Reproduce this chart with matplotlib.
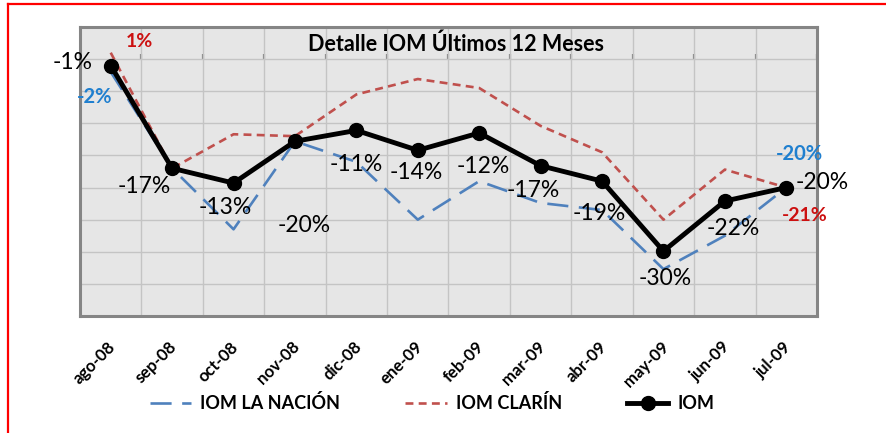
import matplotlib
matplotlib.use("Agg")
import matplotlib.pyplot as plt
from matplotlib.lines import Line2D

plt.rcParams['font.family'] = ['Lato', 'DejaVu Sans']

# ---------------- data ----------------
months = ["ago-08", "sep-08", "oct-08", "nov-08", "dic-08", "ene-09",
          "feb-09", "mar-09", "abr-09", "may-09", "jun-09", "jul-09"]
iom = [-1, -17, -19.3, -12.8, -11.1, -14.2, -11.5, -16.6, -19, -29.9, -22.1, -20]
iom_nacion = [-2, -17, -26.5, -12.8, -16, -25, -19, -22.4, -23.5, -32.7, -27.5, -20]
iom_clarin = [1, -17, -11.7, -12, -5.5, -3.1, -4.5, -10.4, -14.5, -25, -17.2, -20]
iom_labels = ["-1%", "-17%", "-13%", "-20%", "-11%", "-14%", "-12%", "-17%",
              "-19%", "-30%", "-22%", "-20%"]
nacion_labels = {0: "-2%", 11: "-20%"}
clarin_labels = {0: "1%", 11: "-21%"}
title = "Detalle IOM Últimos 12 Meses"
legend_names = ["IOM LA NACIÓN", "IOM CLARÍN", "IOM"]

# ---------------- style ----------------
W, H = 886, 433
fig = plt.figure(figsize=(W / 100, H / 100), dpi=100)
fig.patch.set_facecolor("white")
L, R, T, B = 80, 817, 27, 316
ax = fig.add_axes([L / W, 1 - B / H, (R - L) / W, (B - T) / H])
ax.set_facecolor("#E6E6E6")

x = list(range(len(months)))
blue = "#4F81BD"
red = "#C0504D"

ax.plot(x, iom_nacion, color=blue, lw=1.9, dashes=(8, 4), zorder=3)
ax.plot(x, iom_clarin, color=red, lw=1.9, dashes=(3, 2), zorder=4)
ax.plot(x, iom, color="black", lw=3.5, marker="o", ms=10, zorder=5)

ax.set_xlim(-0.5, len(months) - 0.5)
ax.set_ylim(-40, 5)
ax.set_yticks(range(-40, 6, 5))
ax.set_xticks([i - 0.5 for i in range(len(months) + 1)])
ax.tick_params(axis="both", length=0, labelbottom=False, labelleft=False)
ax.grid(True, color="#C4C4C4", lw=1.0, zorder=0)
ax.set_axisbelow(True)
for s in ax.spines.values():
    s.set_color("#858585")
    s.set_linewidth(2.2)

# zero line with downward tick marks
sec = ax.secondary_xaxis((0 - (-40)) / 45)
sec.set_xticks([i - 0.5 for i in range(len(months) + 1)])
sec.tick_params(axis="x", direction="out", length=3.5, width=1.6, color="#858585",
                labelbottom=False, labeltop=False)
sec.spines["bottom"].set_color("#858585")
sec.spines["bottom"].set_linewidth(1.8)
sec.spines["top"].set_visible(False)

# category labels
for i, m in enumerate(months):
    ax.text(i + 0.04, -0.098, m, transform=ax.get_xaxis_transform(), rotation=45,
            rotation_mode="anchor", ha="right", va="center",
            fontsize=12, fontweight="bold")

# title
ax.text(0.510, 0.941, title, transform=ax.transAxes, ha="center", va="center",
        fontsize=15.5, fontweight="bold", zorder=6)

# data labels (offsets in px: dx right, dy down)
k = 0.72
iom_off = [(-38, -3), (-28, 18), (-8, 24), (9, 84), (0, 34), (-2, 22),
           (4, 34), (-7, 25), (-3, 32), (2, 27), (8, 27), (36, -5)]
for i, (lab, (dx, dy)) in enumerate(zip(iom_labels, iom_off)):
    ax.annotate(lab, (i, iom[i]), xytext=(dx * k, -dy * k), textcoords="offset points",
                ha="center", va="center", fontsize=16.5, color="black", zorder=7)
nac_off = {0: (-16, 25), 11: (13, -34)}
for i, lab in nacion_labels.items():
    dx, dy = nac_off[i]
    ax.annotate(lab, (i, iom_nacion[i]), xytext=(dx * k, -dy * k), textcoords="offset points",
                ha="center", va="center", fontsize=14.5, fontweight="bold",
                color="#1F7FCF", zorder=7)
cla_off = {0: (29, -11), 11: (18, 28)}
for i, lab in clarin_labels.items():
    dx, dy = cla_off[i]
    ax.annotate(lab, (i, iom_clarin[i]), xytext=(dx * k, -dy * k), textcoords="offset points",
                ha="center", va="center", fontsize=14, fontweight="bold",
                color="#CC1010", zorder=7)

# legend
handles = [Line2D([], [], color=blue, lw=1.9, dashes=(8, 4)),
           Line2D([], [], color=red, lw=1.9, dashes=(3, 2)),
           Line2D([], [], color="black", lw=3.5, marker="o", ms=10)]
fig.legend(handles, legend_names, loc="center", bbox_to_anchor=(432 / W, 1 - 403 / H),
           ncol=3, frameon=False, prop={"weight": "bold", "size": 13},
           handlelength=2.3, handletextpad=0.5, columnspacing=3.6)

# red frame
fig.add_artist(Line2D([8 / W, 8 / W], [0, 1 - 4 / H], color="red", lw=1.6,
                      transform=fig.transFigure))
fig.add_artist(Line2D([8 / W, 1], [1 - 4 / H, 1 - 4 / H], color="red", lw=1.6,
                      transform=fig.transFigure))

fig.savefig("out.png", dpi=100)
